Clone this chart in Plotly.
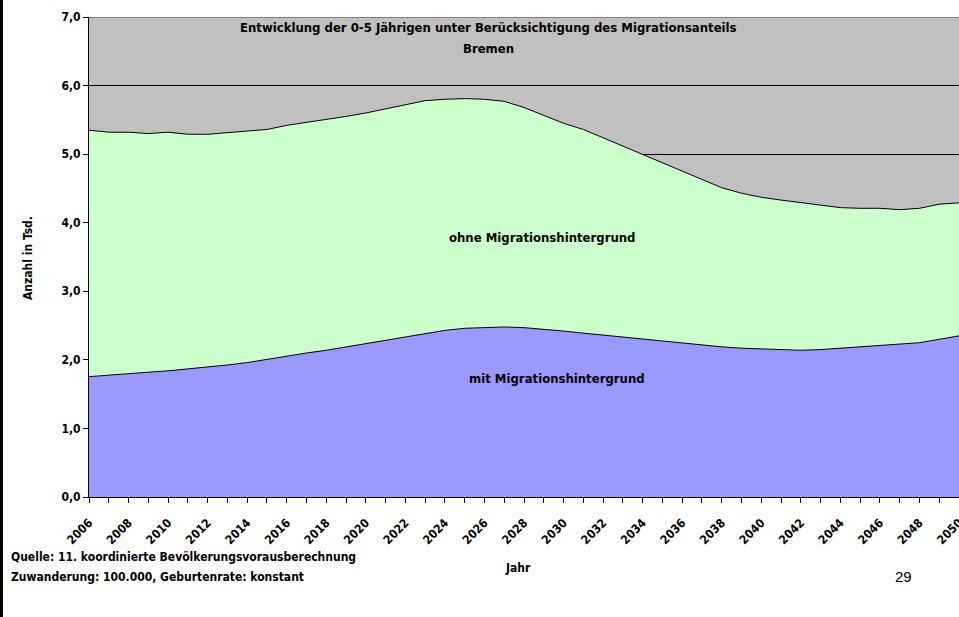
import plotly.graph_objects as go

years = list(range(2006, 2051))
mit = [1.755, 1.78, 1.80, 1.82, 1.84, 1.865, 1.89, 1.925, 1.96, 2.01,
       2.06, 2.10, 2.14, 2.19, 2.24, 2.29, 2.34, 2.39, 2.43, 2.46,
       2.47, 2.48, 2.47, 2.45, 2.42, 2.39, 2.36, 2.33, 2.30, 2.27,
       2.24, 2.21, 2.19, 2.17, 2.16, 2.15, 2.14, 2.15, 2.17, 2.19,
       2.21, 2.23, 2.25, 2.30, 2.35]
gesamt = [5.35, 5.32, 5.32, 5.30, 5.32, 5.29, 5.29, 5.31, 5.33, 5.36,
          5.42, 5.46, 5.50, 5.55, 5.60, 5.66, 5.72, 5.78, 5.80, 5.81,
          5.80, 5.77, 5.68, 5.56, 5.45, 5.36, 5.24, 5.11, 4.99, 4.87,
          4.75, 4.63, 4.51, 4.43, 4.37, 4.33, 4.29, 4.25, 4.22, 4.21,
          4.21, 4.19, 4.21, 4.27, 4.29]
y_ticks = [0, 1, 2, 3, 4, 5, 6, 7]
x_tick_labels = [str(y) if (y - 2006) % 2 == 0 else "" for y in years]

FONT = "DejaVu Sans Condensed, Liberation Sans Narrow, Arial Narrow, sans-serif"
W, H = 959, 617
L, R, T, B = 89, 0, 17, 120
PW, PH = W - L - R, H - T - B

def px(x):
    return (x - L) / PW

def py(y):
    return (H - B - y) / PH

fig = go.Figure()
fig.add_trace(go.Scatter(x=years, y=mit, mode="lines", fill="tozeroy",
                         fillcolor="#9999FF", line=dict(color="black", width=1),
                         name="mit Migrationshintergrund", hoverinfo="x+y"))
fig.add_trace(go.Scatter(x=years, y=gesamt, mode="lines", fill="tonexty",
                         fillcolor="#CCFFCC", line=dict(color="black", width=1),
                         name="ohne Migrationshintergrund", hoverinfo="x+y"))

ann = []
def text(s, x, y, size=12, bold=True, xanchor="center", family=FONT, angle=0):
    ann.append(dict(text=("<b>%s</b>" % s) if bold else s, x=x, y=y, xref="paper", yref="paper",
                    showarrow=False, xanchor=xanchor, yanchor="middle", textangle=angle,
                    font=dict(family=family, size=size, color="black")))

text("Entwicklung der 0-5 Jährigen unter Berücksichtigung des Migrationsanteils", px(488), py(27), 13)
text("Bremen", px(488), py(48), 13)
text("ohne Migrationshintergrund", px(542), py(237), 13)
text("mit Migrationshintergrund", px(557), py(378), 13)
text("Jahr", px(518), py(568), 12)
text("Anzahl in Tsd.", px(28), py(258), 12, angle=-90)
text("Quelle: 11. koordinierte Bevölkerungsvorausberechnung", px(9), py(557), 12, xanchor="left")
text("Zuwanderung: 100.000, Geburtenrate: konstant", px(9), py(577), 12, xanchor="left")
text("29", px(903), py(576), 15, bold=False, family="Liberation Sans, Arial, sans-serif")

shapes = [
    dict(type="line", xref="paper", yref="y", x0=0, x1=1, y0=7, y1=7,
         line=dict(color="#808080", width=2), layer="above"),
    dict(type="line", xref="paper", yref="paper", x0=px(1.5), x1=px(1.5), y0=py(617), y1=py(0),
         line=dict(color="black", width=3), layer="above"),
]

fig.update_layout(
    width=W, height=H, margin=dict(l=L, r=R, t=T, b=B, autoexpand=False),
    paper_bgcolor="white", plot_bgcolor="#C0C0C0",
    showlegend=False, separators=",.",
    annotations=ann, shapes=shapes,
    font=dict(family=FONT, size=12, color="black"),
    xaxis=dict(range=[2006, 2050], tickmode="array", tickvals=years,
               ticktext=x_tick_labels, tickangle=-45, ticklabeloverflow="allow",
               ticklabelstandoff=8,
               ticks="outside", ticklen=5, tickcolor="black", showgrid=False,
               showline=True, linecolor="black", linewidth=1, zeroline=False,
               automargin=False,
               tickfont=dict(family=FONT, size=12, color="black", weight="bold")),
    yaxis=dict(range=[0, 7], tickvals=y_ticks, tickformat=".1f",
               ticks="outside", ticklen=5, tickcolor="black",
               showgrid=True, gridcolor="black", gridwidth=1,
               showline=True, linecolor="black", linewidth=1, zeroline=False,
               automargin=False,
               tickfont=dict(family=FONT, size=12, color="black", weight="bold")),
)
fig.write_html("out.html", config={"displayModeBar": False},
               post_script="document.body.style.margin='0';document.body.style.padding='0';")
